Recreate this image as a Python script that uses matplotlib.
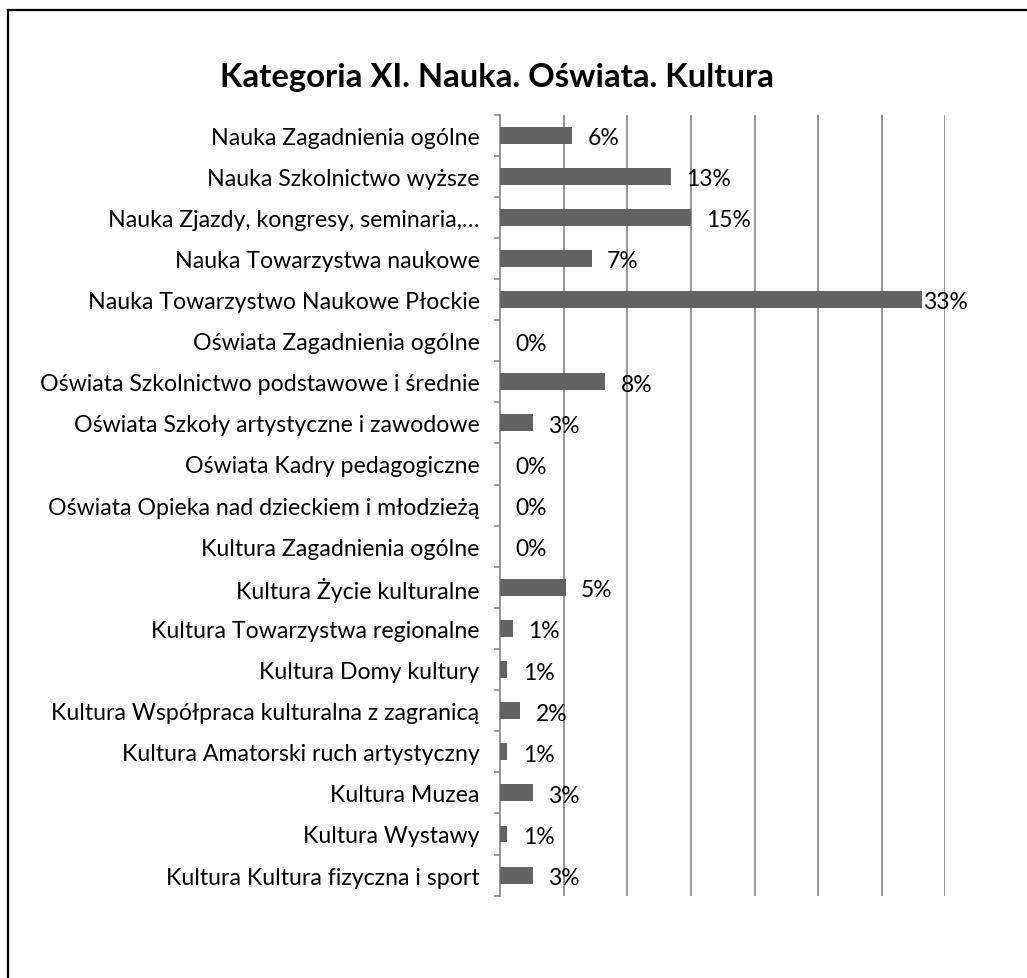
import matplotlib.pyplot as plt
from matplotlib.lines import Line2D
import numpy as np

plt.rcParams['font.family'] = ['Lato', 'DejaVu Sans']

# data (shares in percent)
categories = [
    'Nauka Zagadnienia ogólne',
    'Nauka Szkolnictwo wyższe',
    'Nauka Zjazdy, kongresy, seminaria,…',
    'Nauka Towarzystwa naukowe',
    'Nauka Towarzystwo Naukowe Płockie',
    'Oświata Zagadnienia ogólne',
    'Oświata Szkolnictwo podstawowe i średnie',
    'Oświata Szkoły artystyczne i zawodowe',
    'Oświata Kadry pedagogiczne',
    'Oświata Opieka nad dzieckiem i młodzieżą',
    'Kultura Zagadnienia ogólne',
    'Kultura Życie kulturalne',
    'Kultura Towarzystwa regionalne',
    'Kultura Domy kultury',
    'Kultura Współpraca kulturalna z zagranicą',
    'Kultura Amatorski ruch artystyczny',
    'Kultura Muzea',
    'Kultura Wystawy',
    'Kultura Kultura fizyczna i sport',
]
values = [5.65, 13.4, 15.0, 7.2, 33.15, 0.0, 8.25, 2.55, 0.0, 0.0,
          0.0, 5.15, 0.97, 0.55, 1.55, 0.55, 2.55, 0.55, 2.55]

bar_color = '#626262'
grid_color = '#8c8c8c'

fig = plt.figure(figsize=(10.27, 9.79), dpi=100)
ax = fig.add_axes([0.4873, 0.0841, 0.4329, 0.7979])

y = np.arange(len(categories))
ax.barh(y, values, height=0.41, color=bar_color, zorder=3)

for yi, v in zip(y, values):
    xt = v + 1.2 if v < 30 else v + 0.1
    ax.text(xt, yi + 0.06, '{:.0f}%'.format(v), va='center', ha='left',
            fontsize=16.5, color='black', zorder=4)

ax.set_xlim(0, 35)
ax.set_ylim(len(categories) - 0.5, -0.5)

ax.set_xticks(np.arange(5, 36, 5))
ax.grid(axis='x', color=grid_color, linewidth=1.3, zorder=0)
ax.tick_params(axis='x', length=0, labelbottom=False)

ax.set_yticks(np.arange(-0.5, len(categories), 1.0))
ax.set_yticklabels([])
ax.tick_params(axis='y', which='major', length=4.5, width=1.2,
               color=grid_color, direction='out')
ax.set_yticks(y, minor=True)
ax.set_yticklabels(categories, minor=True, fontsize=16.7)
ax.tick_params(axis='y', which='minor', length=0, pad=15)

for s in ['top', 'right', 'bottom']:
    ax.spines[s].set_visible(False)
ax.spines['left'].set_color(grid_color)
ax.spines['left'].set_linewidth(1.3)

fig.text(0.484, 0.921, 'Kategoria XI. Nauka. Oświata. Kultura',
         ha='center', va='center', fontsize=23.7, fontweight='bold')

# chart area border (only top and left edges fall inside the picture)
bx = 7.7 / 1027
by = 1 - 11 / 979
fig.add_artist(Line2D([bx, bx], [0, by], color='black', linewidth=1.6,
                      transform=fig.transFigure))
fig.add_artist(Line2D([bx, 1], [by, by], color='black', linewidth=1.6,
                      transform=fig.transFigure))

fig.savefig('out.png', dpi=100)
